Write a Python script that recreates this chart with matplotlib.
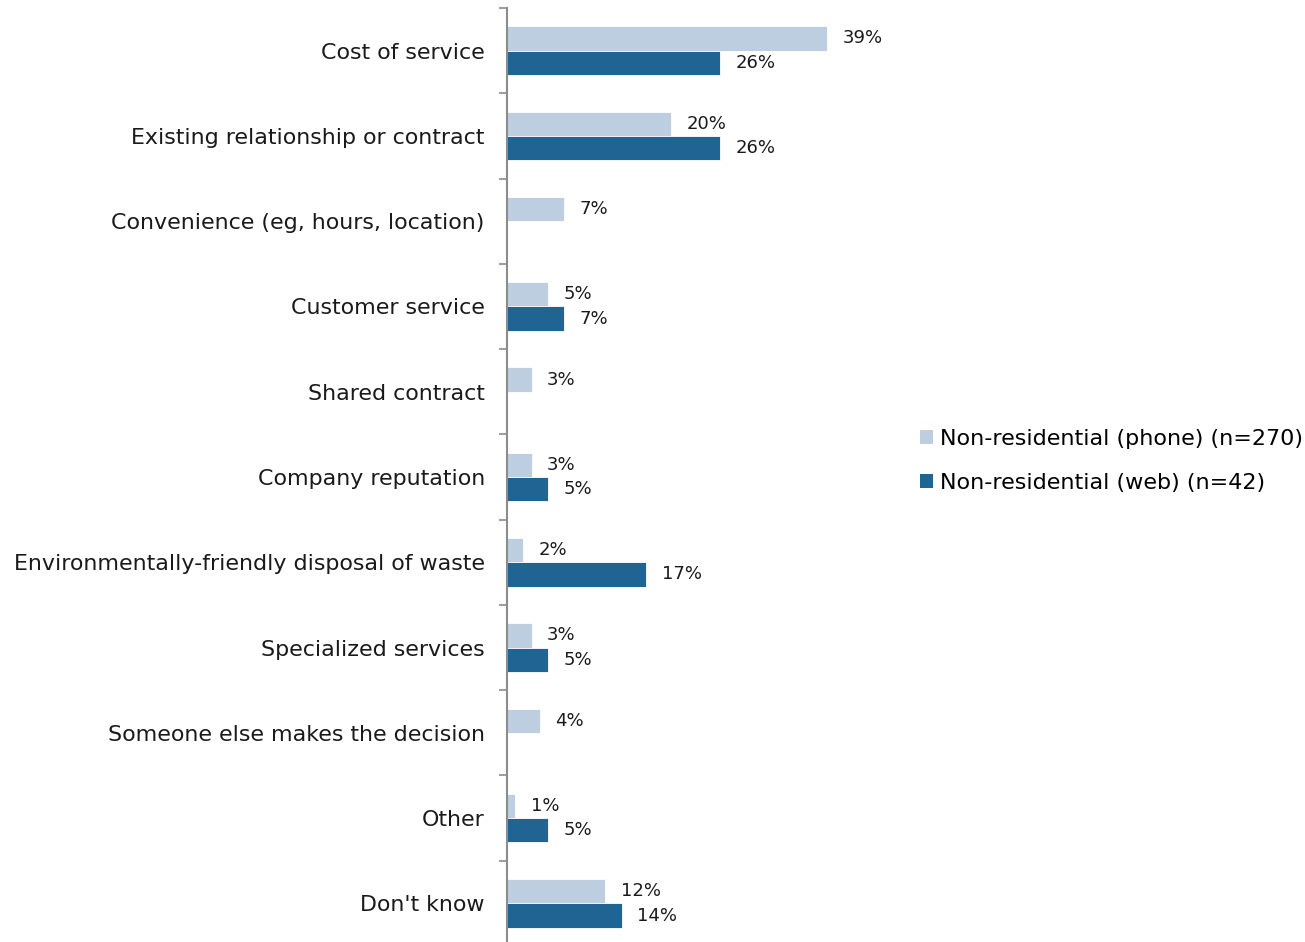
import numpy as np
import matplotlib
matplotlib.use('Agg')
import matplotlib.pyplot as plt
from matplotlib.patches import Patch

categories = ['Cost of service', 'Existing relationship or contract',
              'Convenience (eg, hours, location)', 'Customer service',
              'Shared contract', 'Company reputation',
              'Environmentally-friendly disposal of waste',
              'Specialized services', 'Someone else makes the decision',
              'Other', "Don't know"]
phone = [39, 20, 7, 5, 3, 3, 2, 3, 4, 1, 12]
web = [26, 26, None, 7, None, 5, 17, 5, None, 5, 14]
series_names = ['Non-residential (phone) (n=270)', 'Non-residential (web) (n=42)']

light = '#BCCEE0'
dark = '#206494'

plt.rcParams['font.family'] = ['DejaVu Sans']
fig = plt.figure(figsize=(13.05, 9.42), dpi=100)
ax = fig.add_axes([507/1305, -4/942, 410/1305, 938/942])

n = len(categories)
y = np.arange(n)
h = 0.285
for i in range(n):
    ax.barh(i - h/2, phone[i], height=h, color=light, edgecolor='white', linewidth=0.6)
    ax.text(phone[i] + 1.9, i - h/2, f'{phone[i]}%', va='center', ha='left', fontsize=13, color='#1a1a1a')
    if web[i] is not None:
        ax.barh(i + h/2, web[i], height=h, color=dark, edgecolor='white', linewidth=0.6)
        ax.text(web[i] + 1.9, i + h/2, f'{web[i]}%', va='center', ha='left', fontsize=13, color='#1a1a1a')

ax.set_ylim(n - 0.5, -0.5)
ax.set_xlim(0, 50)
ax.set_yticks(y)
ax.set_yticklabels(categories, fontsize=15.9, color='#1a1a1a')
ax.set_yticks(np.arange(-0.5, n, 1), minor=True)
ax.tick_params(axis='y', which='major', length=0, pad=16)
ax.tick_params(axis='y', which='minor', length=6, width=1.2, color='#8c8c8c')
ax.set_xticks([])
for s in ['top', 'right', 'bottom']:
    ax.spines[s].set_visible(False)
ax.spines['left'].set_color('#8c8c8c')
ax.spines['left'].set_linewidth(1.5)

handles = [Patch(facecolor=light), Patch(facecolor=dark)]
fig.legend(handles, series_names, loc='center left', bbox_to_anchor=(900/1305, 1 - 461/942),
           frameon=False, fontsize=16, handlelength=0.6, handleheight=0.6,
           handletextpad=0.3, labelspacing=1.1)

fig.savefig('out.png', dpi=100)
